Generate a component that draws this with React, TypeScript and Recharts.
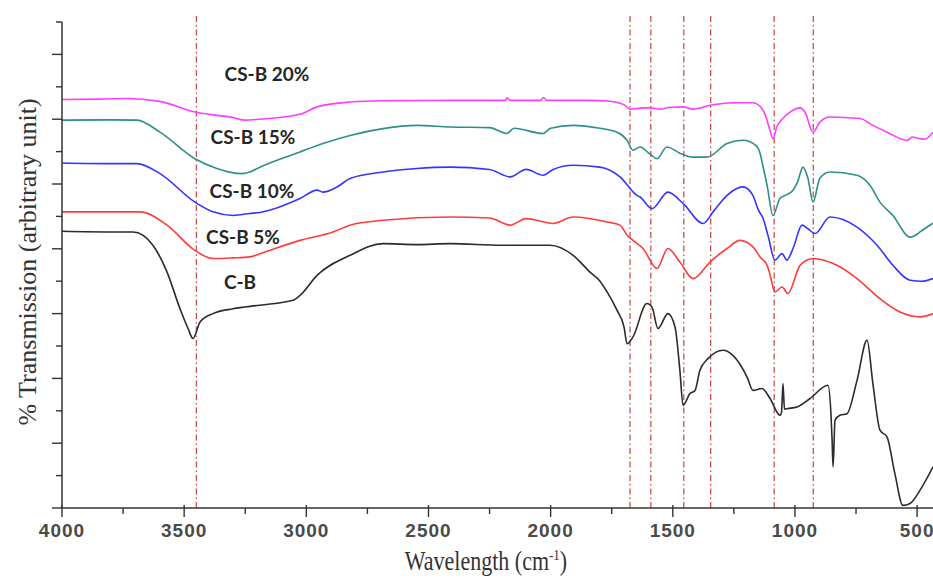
import React from "react";
import { LineChart, Line, XAxis, YAxis, ReferenceLine } from "recharts";

// wavenumber (cm-1), transmission (arbitrary unit, 1 unit per y tick)
const cs20: [number, number][] = [
  [4000, 12.61], [3850, 12.62], [3734, 12.64], [3600, 12.55], [3456, 12.22], [3300, 12.05],
  [3250, 11.97], [3190, 12.0], [3026, 12.15], [2956, 12.38], [2821, 12.53], [2686, 12.57],
  [2412, 12.58], [2300, 12.58], [2185, 12.58], [2179, 12.66], [2166, 12.58], [2040, 12.58],
  [2030, 12.67], [2015, 12.58], [1850, 12.58], [1769, 12.56], [1700, 12.45], [1675, 12.31],
  [1620, 12.35], [1593, 12.35], [1552, 12.31], [1511, 12.37], [1458, 12.38], [1417, 12.31],
  [1348, 12.43], [1254, 12.51], [1172, 12.51], [1143, 12.4], [1120, 12.1], [1102, 11.65],
  [1090, 11.4], [1075, 11.75], [1049, 12.03], [1020, 12.22], [979, 12.35], [959, 12.22],
  [926, 11.6], [898, 11.91], [857, 12.07], [734, 12.02], [681, 11.81], [623, 11.6],
  [541, 11.35], [520, 11.45], [488, 11.4], [470, 11.38], [435, 11.6],
];

const cs15: [number, number][] = [
  [4000, 11.97], [3800, 11.98], [3693, 11.97], [3599, 11.6], [3456, 10.78], [3366, 10.48],
  [3263, 10.32], [3231, 10.37], [3190, 10.52], [3026, 10.99], [2932, 11.25], [2821, 11.5],
  [2686, 11.71], [2547, 11.81], [2412, 11.76], [2250, 11.74], [2179, 11.56], [2150, 11.72],
  [2031, 11.56], [2000, 11.72], [1908, 11.81], [1798, 11.72], [1728, 11.6], [1687, 11.35],
  [1663, 11.04], [1634, 11.14], [1593, 10.92], [1565, 10.78], [1524, 11.14], [1471, 10.95],
  [1417, 10.83], [1360, 10.83], [1278, 11.25], [1213, 11.35], [1160, 11.19], [1143, 10.95],
  [1131, 10.55], [1114, 9.96], [1090, 9.03], [1061, 9.56], [1040, 9.65], [1008, 9.81],
  [990, 10.05], [967, 10.52], [947, 10.18], [926, 9.44], [898, 10.18], [857, 10.37],
  [746, 10.27], [693, 9.96], [652, 9.44], [599, 9.03], [529, 8.36], [500, 8.45],
  [488, 8.52], [435, 8.79],
];

const cs10: [number, number][] = [
  [4000, 10.65], [3800, 10.63], [3693, 10.63], [3599, 10.32], [3456, 9.44], [3382, 9.14],
  [3300, 9.03], [3231, 9.09], [3190, 9.12], [3026, 9.55], [2956, 9.81], [2932, 9.75],
  [2874, 9.91], [2821, 10.17], [2686, 10.37], [2547, 10.48], [2412, 10.52], [2250, 10.45],
  [2166, 10.22], [2100, 10.45], [2031, 10.27], [1990, 10.45], [1908, 10.58], [1798, 10.52],
  [1716, 10.22], [1647, 9.65], [1634, 9.6], [1585, 9.24], [1520, 9.75], [1458, 9.4],
  [1376, 8.78], [1335, 9.14], [1278, 9.65], [1213, 9.91], [1172, 9.65], [1150, 9.2],
  [1131, 8.95], [1110, 8.4], [1082, 7.65], [1053, 7.85], [1033, 7.65], [1008, 8.01],
  [971, 8.73], [947, 8.62], [918, 8.47], [857, 8.98], [746, 8.67], [664, 8.11],
  [599, 7.49], [529, 7.03], [480, 7.0], [435, 7.08],
];

const cs5: [number, number][] = [
  [4000, 9.14], [3800, 9.14], [3681, 9.14], [3570, 8.73], [3456, 7.95], [3382, 7.7],
  [3300, 7.72], [3231, 7.75], [3190, 7.85], [3026, 8.26], [2891, 8.52], [2821, 8.73],
  [2686, 8.88], [2412, 8.98], [2250, 8.95], [2166, 8.73], [2100, 8.93], [1990, 8.78],
  [1908, 8.98], [1769, 8.83], [1716, 8.73], [1687, 8.42], [1663, 8.26], [1622, 8.01],
  [1565, 7.39], [1520, 8.01], [1471, 7.59], [1417, 7.08], [1348, 7.59], [1278, 8.01],
  [1225, 8.26], [1172, 8.06], [1143, 7.75], [1114, 7.49], [1102, 7.2], [1082, 6.67],
  [1053, 6.82], [1029, 6.62], [979, 7.49], [926, 7.7], [828, 7.49], [746, 7.08],
  [652, 6.46], [570, 6.05], [488, 5.9], [435, 6.0],
];

const cb: [number, number][] = [
  [4000, 8.54], [3800, 8.52], [3709, 8.52], [3628, 8.11], [3570, 7.28], [3517, 6.15],
  [3484, 5.54], [3464, 5.23], [3435, 5.74], [3382, 6.0], [3300, 6.15], [3190, 6.26],
  [3055, 6.41], [3026, 6.56], [2956, 7.18], [2821, 7.8], [2686, 8.16], [2547, 8.13],
  [2412, 8.16], [2200, 8.11], [2003, 8.11], [1908, 7.8], [1839, 7.28], [1798, 7.0],
  [1769, 6.67], [1728, 6.1], [1700, 5.6], [1687, 5.07], [1663, 5.28], [1606, 6.31],
  [1585, 6.2], [1561, 5.54], [1520, 6.0], [1491, 5.59], [1471, 4.25], [1458, 3.17],
  [1430, 3.53], [1409, 3.63], [1389, 4.25], [1356, 4.61], [1294, 4.87], [1254, 4.71],
  [1196, 4.04], [1172, 3.63], [1135, 3.69], [1102, 3.38], [1061, 2.86], [1055, 2.95],
  [1049, 3.84], [1043, 3.05], [1029, 3.07], [992, 3.12], [938, 3.38], [865, 3.79],
  [852, 2.8], [848, 2.09], [844, 1.27], [836, 2.71], [816, 2.86], [787, 2.91],
  [746, 3.94], [705, 5.18], [681, 3.84], [652, 2.4], [623, 2.19], [591, 1.06],
  [558, 0.08], [529, 0.14], [488, 0.55], [435, 1.27],
];

const peaks = [3450, 1675, 1590, 1455, 1345, 1085, 925];
const xTicks = [4000, 3750, 3500, 3250, 3000, 2750, 2500, 2250, 2000, 1750, 1500, 1250, 1000, 750, 500];
const yTicks = [0, 1, 2, 3, 4, 5, 6, 7, 8, 9, 10, 11, 12, 13, 14, 15];

const series = [
  { name: "C-B", points: cb, color: "#2b2b2b" },
  { name: "CS-B 5%", points: cs5, color: "#ff3b3b" },
  { name: "CS-B 10%", points: cs10, color: "#3434ff" },
  { name: "CS-B 15%", points: cs15, color: "#2c8f88" },
  { name: "CS-B 20%", points: cs20, color: "#ff3cff" },
];

const labels = [
  { text: "CS-B 20%", x: 267, y: 73 },
  { text: "CS-B 15%", x: 253, y: 136 },
  { text: "CS-B 10%", x: 252, y: 190 },
  { text: "CS-B 5%", x: 243, y: 236 },
  { text: "C-B", x: 240, y: 281 },
];

const toRows = (pts: [number, number][]) => pts.map(([wn, t]) => ({ wn, t }));

const XTick = (props: any) => {
  const { x, y, payload } = props;
  const major = payload.value % 500 === 0;
  return (
    <g>
      <line x1={x} x2={x} y1={major ? y - 3 : y} y2={y + (major ? 9 : 6)} stroke="#333" strokeWidth={1.4} />
      {major && (
        <text x={x} y={y + 29} textAnchor="middle" fontSize={19} fontWeight={700} letterSpacing={1}
          fill="#4a4a4a" fontFamily="'Liberation Sans', Arial, sans-serif">
          {payload.value}
        </text>
      )}
    </g>
  );
};

const YTick = (props: any) => {
  const { x, y, payload } = props;
  const major = payload.value % 2 === 0;
  return <line x1={x} x2={x - (major ? 10 : 6)} y1={y} y2={y} stroke="#333" strokeWidth={1.4} />;
};

export default function App() {
  return (
    <div style={{ position: "relative", width: 933, height: 579, background: "#fff" }}>
      <style>{"body{margin:0}"}</style>
      <LineChart width={933} height={579} margin={{ top: 22, right: 0, left: 0, bottom: 0 }}>
        <XAxis
          dataKey="wn"
          type="number"
          domain={[435, 4000]}
          reversed
          allowDataOverflow
          ticks={xTicks}
          interval={0}
          tickLine={false}
          tickSize={0}
          tickMargin={0}
          tick={<XTick />}
          height={71}
          stroke="#333"
          strokeWidth={1.5}
        />
        <YAxis
          type="number"
          domain={[0, 15]}
          ticks={yTicks}
          interval={0}
          tickLine={false}
          tickSize={0}
          tickMargin={0}
          tick={<YTick />}
          width={62}
          stroke="#333"
          strokeWidth={1.5}
        />
        {peaks.map((p) => (
          <ReferenceLine
            key={p}
            segment={[{ x: p, y: 0 }, { x: p, y: 15.2 }]}
            ifOverflow="visible"
            stroke="#c9504f"
            strokeWidth={1.3}
            strokeDasharray="6 3 1.5 3"
          />
        ))}
        {series.map((s) => (
          <Line
            key={s.name}
            data={toRows(s.points)}
            dataKey="t"
            type="monotone"
            stroke={s.color}
            strokeWidth={1.6}
            dot={false}
            isAnimationActive={false}
          />
        ))}
      </LineChart>
      <svg width={933} height={579} style={{ position: "absolute", left: 0, top: 0, pointerEvents: "none" }}>
        {labels.map((l) => (
          <text key={l.text} x={l.x} y={l.y} textAnchor="middle" dominantBaseline="central"
            fontSize={19} fontWeight={700} fill="#262626" fontFamily="Lato, sans-serif">
            {l.text}
          </text>
        ))}
        <g transform="translate(486,570) scale(1,1.2)">
          <text x={0} y={0} textAnchor="middle" fontSize={22} fill="#333"
            fontFamily="'Liberation Serif', 'Times New Roman', serif">
            Wavelength (cm<tspan dy={-8} fontSize={13}>-1</tspan><tspan dy={8}>)</tspan>
          </text>
        </g>
        <text transform="translate(27,262) rotate(-90)" textAnchor="middle" dominantBaseline="central"
          fontSize={26} fill="#333" fontFamily="'Liberation Serif', 'Times New Roman', serif">
          % Transmission (arbitrary unit)
        </text>
      </svg>
    </div>
  );
}
